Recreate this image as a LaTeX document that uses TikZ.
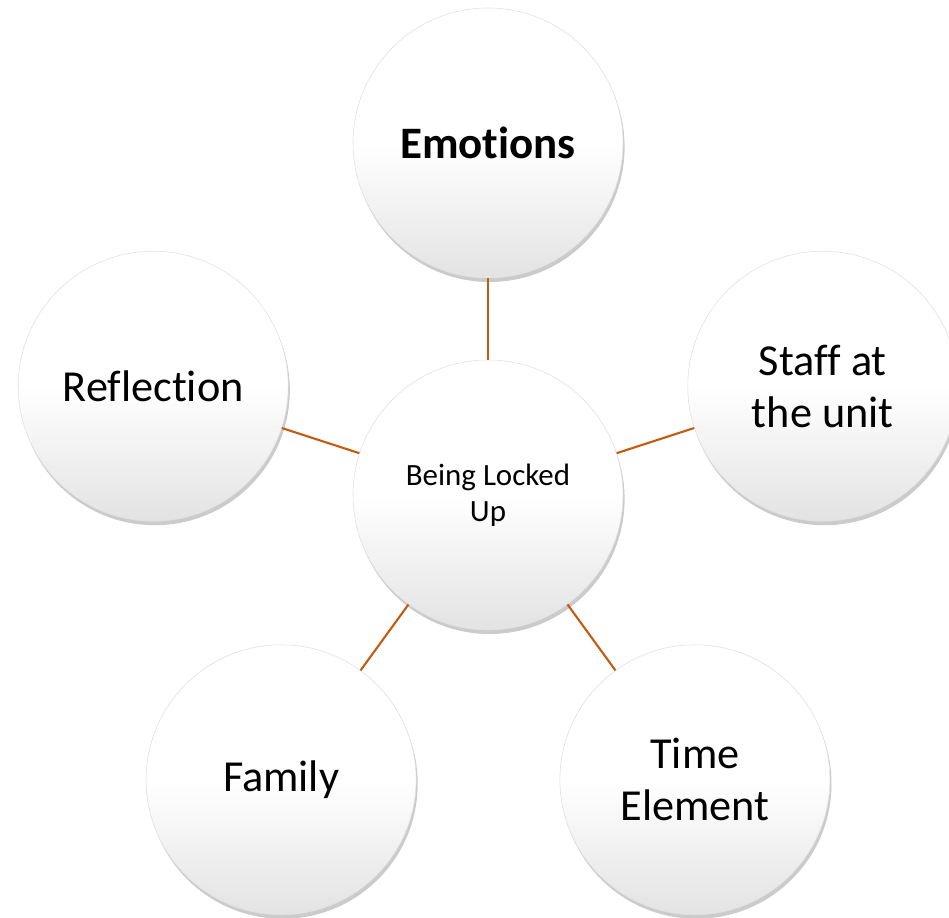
\documentclass[tikz,border=0pt]{standalone}
\usepackage{fontspec}
\setmainfont{Carlito}[Ligatures=NoCommon]
\usepackage{tikz}
\usetikzlibrary{positioning, shadows}

\definecolor{linkbrown}{HTML}{C55A11}

\begin{document}
\begin{tikzpicture}[
    bubble/.style={circle, minimum size=6.75cm, inner sep=0pt, align=center,
        draw=black!12, line width=0.4pt,
        top color=white, bottom color=black!11, middle color=white,
        drop shadow={shadow xshift=0.04cm, shadow yshift=-0.1cm, fill=black!45, opacity=0.45},
        font=\fontsize{31.5}{37}\selectfont},
    link/.style={linkbrown, line width=1.5pt}
]

    % Page frame
    \useasboundingbox (-12.2, -10.575) rectangle (11.525, 12.375);
    \clip (-12.2, -10.575) rectangle (11.525, 12.375);

    % Centre topic
    \node[bubble, font=\fontsize{22}{25.5}\selectfont] (locked) at (0, 0) {Being Locked\\Up};

    % Themes round it
    \node[bubble, font=\fontsize{32}{37}\selectfont\bfseries] (emotions) at (90:8.8) {Emotions};
    \node[bubble] (staff) at (18:8.8) {Staff at\\the unit};
    \node[bubble] (time) at (-54:8.8) {Time\\Element};
    \node[bubble] (family) at (234:8.8) {Family};
    \node[bubble] (reflection) at (162:8.8) {Reflection};

    % Links
    \foreach \theme in {emotions, staff, time, family, reflection}
        \draw[link] (locked) -- (\theme);

\end{tikzpicture}
\end{document}
